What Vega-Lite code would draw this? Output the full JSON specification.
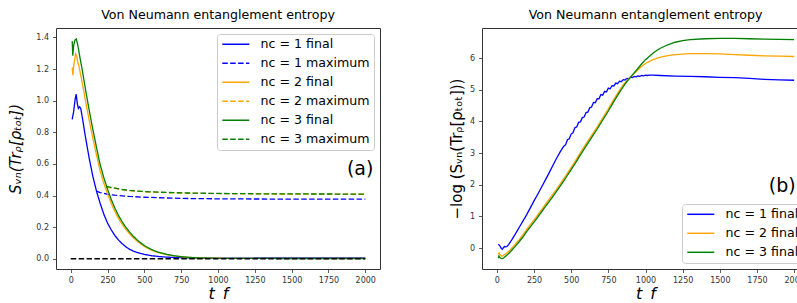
{
  "$schema": "https://vega.github.io/schema/vega-lite/v6.json",
  "padding": {"left": 8, "top": 8, "right": 0, "bottom": 0},
  "background": "white",
  "config": {
    "font": "DejaVu Sans",
    "view": {"stroke": "#333333", "strokeWidth": 1},
    "axis": {"grid": false, "domain": false, "tickColor": "#333333", "tickSize": 3.5, "tickWidth": 0.8, "labelFontSize": 8, "labelColor": "#333333", "labelPadding": 4, "labelOverlap": false, "labelFlush": false, "titleFontSize": 15, "titleFontWeight": "normal", "titleColor": "#000000"},
    "title": {"fontSize": 12.6, "fontWeight": "normal", "color": "#000000", "offset": 6, "baseline": "alphabetic"},
    "legend": {"labelFontSize": 12.6, "labelColor": "#000000", "symbolType": "M-1,0H4.4", "symbolSize": 100, "symbolStrokeWidth": 1.5, "labelOffset": 27, "padding": 4, "rowPadding": 6, "fillColor": "rgba(255,255,255,0.8)", "strokeColor": "#cccccc", "cornerRadius": 3, "labelLimit": 300}
  },
  "datasets": {
    "zero": [{"t": 0, "S": 0}, {"t": 2000, "S": 0}],
    "left": [
      {"t": 10, "S": 0.8825, "series": "nc = 1 final"},
      {"t": 20, "S": 0.9324, "series": "nc = 1 final"},
      {"t": 30, "S": 1.0101, "series": "nc = 1 final"},
      {"t": 37, "S": 1.0408, "series": "nc = 1 final"},
      {"t": 45, "S": 0.9802, "series": "nc = 1 final"},
      {"t": 52, "S": 0.9512, "series": "nc = 1 final"},
      {"t": 60, "S": 0.9608, "series": "nc = 1 final"},
      {"t": 68, "S": 0.9512, "series": "nc = 1 final"},
      {"t": 80, "S": 0.8869, "series": "nc = 1 final"},
      {"t": 100, "S": 0.7711, "series": "nc = 1 final"},
      {"t": 125, "S": 0.6376, "series": "nc = 1 final"},
      {"t": 150, "S": 0.5220, "series": "nc = 1 final"},
      {"t": 175, "S": 0.4274, "series": "nc = 1 final"},
      {"t": 200, "S": 0.3499, "series": "nc = 1 final"},
      {"t": 225, "S": 0.2808, "series": "nc = 1 final"},
      {"t": 250, "S": 0.2254, "series": "nc = 1 final"},
      {"t": 275, "S": 0.1827, "series": "nc = 1 final"},
      {"t": 300, "S": 0.1466, "series": "nc = 1 final"},
      {"t": 325, "S": 0.1177, "series": "nc = 1 final"},
      {"t": 350, "S": 0.0944, "series": "nc = 1 final"},
      {"t": 375, "S": 0.0750, "series": "nc = 1 final"},
      {"t": 400, "S": 0.0596, "series": "nc = 1 final"},
      {"t": 425, "S": 0.0483, "series": "nc = 1 final"},
      {"t": 450, "S": 0.0400, "series": "nc = 1 final"},
      {"t": 475, "S": 0.0327, "series": "nc = 1 final"},
      {"t": 500, "S": 0.0273, "series": "nc = 1 final"},
      {"t": 550, "S": 0.0189, "series": "nc = 1 final"},
      {"t": 600, "S": 0.0138, "series": "nc = 1 final"},
      {"t": 650, "S": 0.0101, "series": "nc = 1 final"},
      {"t": 700, "S": 0.0078, "series": "nc = 1 final"},
      {"t": 750, "S": 0.0064, "series": "nc = 1 final"},
      {"t": 800, "S": 0.0055, "series": "nc = 1 final"},
      {"t": 900, "S": 0.0045, "series": "nc = 1 final"},
      {"t": 1000, "S": 0.0043, "series": "nc = 1 final"},
      {"t": 1500, "S": 0.0046, "series": "nc = 1 final"},
      {"t": 2000, "S": 0.0050, "series": "nc = 1 final"},

      {"t": 175, "S": 0.428, "series": "nc = 1 maximum"},
      {"t": 200, "S": 0.418, "series": "nc = 1 maximum"},
      {"t": 250, "S": 0.408, "series": "nc = 1 maximum"},
      {"t": 300, "S": 0.402, "series": "nc = 1 maximum"},
      {"t": 350, "S": 0.398, "series": "nc = 1 maximum"},
      {"t": 400, "S": 0.394, "series": "nc = 1 maximum"},
      {"t": 500, "S": 0.389, "series": "nc = 1 maximum"},
      {"t": 600, "S": 0.386, "series": "nc = 1 maximum"},
      {"t": 700, "S": 0.383, "series": "nc = 1 maximum"},
      {"t": 800, "S": 0.381, "series": "nc = 1 maximum"},
      {"t": 1000, "S": 0.379, "series": "nc = 1 maximum"},
      {"t": 1250, "S": 0.378, "series": "nc = 1 maximum"},
      {"t": 1500, "S": 0.377, "series": "nc = 1 maximum"},
      {"t": 2000, "S": 0.377, "series": "nc = 1 maximum"},

      {"t": 10, "S": 1.2092, "series": "nc = 2 final"},
      {"t": 15, "S": 1.1618, "series": "nc = 2 final"},
      {"t": 20, "S": 1.2214, "series": "nc = 2 final"},
      {"t": 33, "S": 1.2969, "series": "nc = 2 final"},
      {"t": 40, "S": 1.2840, "series": "nc = 2 final"},
      {"t": 47, "S": 1.2461, "series": "nc = 2 final"},
      {"t": 55, "S": 1.2214, "series": "nc = 2 final"},
      {"t": 63, "S": 1.1853, "series": "nc = 2 final"},
      {"t": 80, "S": 1.1052, "series": "nc = 2 final"},
      {"t": 100, "S": 1.0, "series": "nc = 2 final"},
      {"t": 125, "S": 0.8781, "series": "nc = 2 final"},
      {"t": 150, "S": 0.7634, "series": "nc = 2 final"},
      {"t": 175, "S": 0.6570, "series": "nc = 2 final"},
      {"t": 200, "S": 0.5543, "series": "nc = 2 final"},
      {"t": 225, "S": 0.4771, "series": "nc = 2 final"},
      {"t": 250, "S": 0.4107, "series": "nc = 2 final"},
      {"t": 275, "S": 0.3499, "series": "nc = 2 final"},
      {"t": 300, "S": 0.2982, "series": "nc = 2 final"},
      {"t": 325, "S": 0.2541, "series": "nc = 2 final"},
      {"t": 350, "S": 0.2165, "series": "nc = 2 final"},
      {"t": 375, "S": 0.1845, "series": "nc = 2 final"},
      {"t": 400, "S": 0.1572, "series": "nc = 2 final"},
      {"t": 425, "S": 0.1327, "series": "nc = 2 final"},
      {"t": 450, "S": 0.1119, "series": "nc = 2 final"},
      {"t": 475, "S": 0.0935, "series": "nc = 2 final"},
      {"t": 500, "S": 0.0781, "series": "nc = 2 final"},
      {"t": 525, "S": 0.0652, "series": "nc = 2 final"},
      {"t": 550, "S": 0.0539, "series": "nc = 2 final"},
      {"t": 575, "S": 0.0446, "series": "nc = 2 final"},
      {"t": 600, "S": 0.0373, "series": "nc = 2 final"},
      {"t": 650, "S": 0.0260, "series": "nc = 2 final"},
      {"t": 700, "S": 0.0180, "series": "nc = 2 final"},
      {"t": 750, "S": 0.0123, "series": "nc = 2 final"},
      {"t": 800, "S": 0.0082, "series": "nc = 2 final"},
      {"t": 850, "S": 0.0058, "series": "nc = 2 final"},
      {"t": 900, "S": 0.0045, "series": "nc = 2 final"},
      {"t": 1000, "S": 0.0029, "series": "nc = 2 final"},
      {"t": 1500, "S": 0.0022, "series": "nc = 2 final"},
      {"t": 2000, "S": 0.0024, "series": "nc = 2 final"},

      {"t": 240, "S": 0.452, "series": "nc = 2 maximum"},
      {"t": 275, "S": 0.449, "series": "nc = 2 maximum"},
      {"t": 300, "S": 0.445, "series": "nc = 2 maximum"},
      {"t": 350, "S": 0.437, "series": "nc = 2 maximum"},
      {"t": 400, "S": 0.431, "series": "nc = 2 maximum"},
      {"t": 500, "S": 0.424, "series": "nc = 2 maximum"},
      {"t": 600, "S": 0.420, "series": "nc = 2 maximum"},
      {"t": 700, "S": 0.417, "series": "nc = 2 maximum"},
      {"t": 800, "S": 0.415, "series": "nc = 2 maximum"},
      {"t": 1000, "S": 0.412, "series": "nc = 2 maximum"},
      {"t": 1250, "S": 0.410, "series": "nc = 2 maximum"},
      {"t": 1500, "S": 0.409, "series": "nc = 2 maximum"},
      {"t": 2000, "S": 0.408, "series": "nc = 2 maximum"},

      {"t": 10, "S": 1.3771, "series": "nc = 3 final"},
      {"t": 14, "S": 1.2840, "series": "nc = 3 final"},
      {"t": 20, "S": 1.3499, "series": "nc = 3 final"},
      {"t": 29, "S": 1.3840, "series": "nc = 3 final"},
      {"t": 38, "S": 1.3910, "series": "nc = 3 final"},
      {"t": 47, "S": 1.3566, "series": "nc = 3 final"},
      {"t": 63, "S": 1.2712, "series": "nc = 3 final"},
      {"t": 80, "S": 1.1853, "series": "nc = 3 final"},
      {"t": 100, "S": 1.0725, "series": "nc = 3 final"},
      {"t": 125, "S": 0.9418, "series": "nc = 3 final"},
      {"t": 150, "S": 0.8187, "series": "nc = 3 final"},
      {"t": 175, "S": 0.7047, "series": "nc = 3 final"},
      {"t": 200, "S": 0.5945, "series": "nc = 3 final"},
      {"t": 225, "S": 0.5117, "series": "nc = 3 final"},
      {"t": 250, "S": 0.4404, "series": "nc = 3 final"},
      {"t": 275, "S": 0.3753, "series": "nc = 3 final"},
      {"t": 300, "S": 0.3198, "series": "nc = 3 final"},
      {"t": 325, "S": 0.2725, "series": "nc = 3 final"},
      {"t": 350, "S": 0.2322, "series": "nc = 3 final"},
      {"t": 375, "S": 0.1979, "series": "nc = 3 final"},
      {"t": 400, "S": 0.1686, "series": "nc = 3 final"},
      {"t": 425, "S": 0.1423, "series": "nc = 3 final"},
      {"t": 450, "S": 0.1200, "series": "nc = 3 final"},
      {"t": 475, "S": 0.1003, "series": "nc = 3 final"},
      {"t": 500, "S": 0.0837, "series": "nc = 3 final"},
      {"t": 525, "S": 0.0699, "series": "nc = 3 final"},
      {"t": 550, "S": 0.0578, "series": "nc = 3 final"},
      {"t": 575, "S": 0.0478, "series": "nc = 3 final"},
      {"t": 600, "S": 0.0400, "series": "nc = 3 final"},
      {"t": 650, "S": 0.0279, "series": "nc = 3 final"},
      {"t": 700, "S": 0.0193, "series": "nc = 3 final"},
      {"t": 750, "S": 0.0132, "series": "nc = 3 final"},
      {"t": 800, "S": 0.0088, "series": "nc = 3 final"},
      {"t": 850, "S": 0.0061, "series": "nc = 3 final"},
      {"t": 900, "S": 0.0045, "series": "nc = 3 final"},
      {"t": 1000, "S": 0.0026, "series": "nc = 3 final"},
      {"t": 1500, "S": 0.0013, "series": "nc = 3 final"},
      {"t": 2000, "S": 0.0014, "series": "nc = 3 final"},

      {"t": 240, "S": 0.458, "series": "nc = 3 maximum"},
      {"t": 275, "S": 0.452, "series": "nc = 3 maximum"},
      {"t": 300, "S": 0.447, "series": "nc = 3 maximum"},
      {"t": 350, "S": 0.438, "series": "nc = 3 maximum"},
      {"t": 400, "S": 0.432, "series": "nc = 3 maximum"},
      {"t": 500, "S": 0.425, "series": "nc = 3 maximum"},
      {"t": 600, "S": 0.421, "series": "nc = 3 maximum"},
      {"t": 700, "S": 0.418, "series": "nc = 3 maximum"},
      {"t": 800, "S": 0.416, "series": "nc = 3 maximum"},
      {"t": 1000, "S": 0.413, "series": "nc = 3 maximum"},
      {"t": 1250, "S": 0.411, "series": "nc = 3 maximum"},
      {"t": 1500, "S": 0.410, "series": "nc = 3 maximum"},
      {"t": 2000, "S": 0.409, "series": "nc = 3 maximum"}
    ],
    "right": [
      {"t": 10, "L": 0.125, "series": "nc = 1 final"},
      {"t": 20, "L": 0.07, "series": "nc = 1 final"},
      {"t": 30, "L": -0.01, "series": "nc = 1 final"},
      {"t": 37, "L": -0.04, "series": "nc = 1 final"},
      {"t": 45, "L": 0.02, "series": "nc = 1 final"},
      {"t": 52, "L": 0.05, "series": "nc = 1 final"},
      {"t": 60, "L": 0.04, "series": "nc = 1 final"},
      {"t": 68, "L": 0.05, "series": "nc = 1 final"},
      {"t": 80, "L": 0.12, "series": "nc = 1 final"},
      {"t": 100, "L": 0.26, "series": "nc = 1 final"},
      {"t": 125, "L": 0.45, "series": "nc = 1 final"},
      {"t": 150, "L": 0.65, "series": "nc = 1 final"},
      {"t": 175, "L": 0.85, "series": "nc = 1 final"},
      {"t": 200, "L": 1.05, "series": "nc = 1 final"},
      {"t": 225, "L": 1.27, "series": "nc = 1 final"},
      {"t": 250, "L": 1.49, "series": "nc = 1 final"},
      {"t": 275, "L": 1.70, "series": "nc = 1 final"},
      {"t": 300, "L": 1.92, "series": "nc = 1 final"},
      {"t": 325, "L": 2.14, "series": "nc = 1 final"},
      {"t": 350, "L": 2.36, "series": "nc = 1 final"},
      {"t": 375, "L": 2.59, "series": "nc = 1 final"},
      {"t": 400, "L": 2.82, "series": "nc = 1 final"},
      {"t": 425, "L": 3.03, "series": "nc = 1 final"},
      {"t": 450, "L": 3.22, "series": "nc = 1 final"},
      {"t": 462, "L": 3.26, "series": "nc = 1 final"},
      {"t": 475, "L": 3.42, "series": "nc = 1 final"},
      {"t": 487, "L": 3.45, "series": "nc = 1 final"},
      {"t": 500, "L": 3.60, "series": "nc = 1 final"},
      {"t": 512, "L": 3.64, "series": "nc = 1 final"},
      {"t": 525, "L": 3.80, "series": "nc = 1 final"},
      {"t": 537, "L": 3.825, "series": "nc = 1 final"},
      {"t": 550, "L": 3.97, "series": "nc = 1 final"},
      {"t": 562, "L": 3.985, "series": "nc = 1 final"},
      {"t": 575, "L": 4.12, "series": "nc = 1 final"},
      {"t": 587, "L": 4.14, "series": "nc = 1 final"},
      {"t": 600, "L": 4.28, "series": "nc = 1 final"},
      {"t": 612, "L": 4.295, "series": "nc = 1 final"},
      {"t": 625, "L": 4.43, "series": "nc = 1 final"},
      {"t": 637, "L": 4.455, "series": "nc = 1 final"},
      {"t": 650, "L": 4.60, "series": "nc = 1 final"},
      {"t": 662, "L": 4.59, "series": "nc = 1 final"},
      {"t": 675, "L": 4.72, "series": "nc = 1 final"},
      {"t": 687, "L": 4.715, "series": "nc = 1 final"},
      {"t": 700, "L": 4.85, "series": "nc = 1 final"},
      {"t": 712, "L": 4.83, "series": "nc = 1 final"},
      {"t": 725, "L": 4.95, "series": "nc = 1 final"},
      {"t": 737, "L": 4.93, "series": "nc = 1 final"},
      {"t": 750, "L": 5.05, "series": "nc = 1 final"},
      {"t": 762, "L": 5.03, "series": "nc = 1 final"},
      {"t": 775, "L": 5.13, "series": "nc = 1 final"},
      {"t": 787, "L": 5.12, "series": "nc = 1 final"},
      {"t": 800, "L": 5.21, "series": "nc = 1 final"},
      {"t": 812, "L": 5.19, "series": "nc = 1 final"},
      {"t": 825, "L": 5.27, "series": "nc = 1 final"},
      {"t": 837, "L": 5.255, "series": "nc = 1 final"},
      {"t": 850, "L": 5.32, "series": "nc = 1 final"},
      {"t": 862, "L": 5.305, "series": "nc = 1 final"},
      {"t": 875, "L": 5.36, "series": "nc = 1 final"},
      {"t": 887, "L": 5.35, "series": "nc = 1 final"},
      {"t": 900, "L": 5.40, "series": "nc = 1 final"},
      {"t": 912, "L": 5.385, "series": "nc = 1 final"},
      {"t": 925, "L": 5.42, "series": "nc = 1 final"},
      {"t": 937, "L": 5.41, "series": "nc = 1 final"},
      {"t": 950, "L": 5.44, "series": "nc = 1 final"},
      {"t": 962, "L": 5.425, "series": "nc = 1 final"},
      {"t": 975, "L": 5.45, "series": "nc = 1 final"},
      {"t": 987, "L": 5.44, "series": "nc = 1 final"},
      {"t": 1000, "L": 5.46, "series": "nc = 1 final"},
      {"t": 1012, "L": 5.45, "series": "nc = 1 final"},
      {"t": 1025, "L": 5.46, "series": "nc = 1 final"},
      {"t": 1050, "L": 5.46, "series": "nc = 1 final"},
      {"t": 1100, "L": 5.45, "series": "nc = 1 final"},
      {"t": 1200, "L": 5.43, "series": "nc = 1 final"},
      {"t": 1300, "L": 5.42, "series": "nc = 1 final"},
      {"t": 1400, "L": 5.41, "series": "nc = 1 final"},
      {"t": 1500, "L": 5.39, "series": "nc = 1 final"},
      {"t": 1600, "L": 5.38, "series": "nc = 1 final"},
      {"t": 1700, "L": 5.36, "series": "nc = 1 final"},
      {"t": 1800, "L": 5.33, "series": "nc = 1 final"},
      {"t": 1900, "L": 5.31, "series": "nc = 1 final"},
      {"t": 2000, "L": 5.30, "series": "nc = 1 final"},

      {"t": 10, "L": -0.19, "series": "nc = 2 final"},
      {"t": 15, "L": -0.15, "series": "nc = 2 final"},
      {"t": 20, "L": -0.20, "series": "nc = 2 final"},
      {"t": 33, "L": -0.26, "series": "nc = 2 final"},
      {"t": 40, "L": -0.25, "series": "nc = 2 final"},
      {"t": 47, "L": -0.22, "series": "nc = 2 final"},
      {"t": 55, "L": -0.20, "series": "nc = 2 final"},
      {"t": 63, "L": -0.17, "series": "nc = 2 final"},
      {"t": 80, "L": -0.10, "series": "nc = 2 final"},
      {"t": 100, "L": 0.00, "series": "nc = 2 final"},
      {"t": 125, "L": 0.13, "series": "nc = 2 final"},
      {"t": 150, "L": 0.27, "series": "nc = 2 final"},
      {"t": 175, "L": 0.42, "series": "nc = 2 final"},
      {"t": 200, "L": 0.59, "series": "nc = 2 final"},
      {"t": 225, "L": 0.74, "series": "nc = 2 final"},
      {"t": 250, "L": 0.89, "series": "nc = 2 final"},
      {"t": 275, "L": 1.05, "series": "nc = 2 final"},
      {"t": 300, "L": 1.21, "series": "nc = 2 final"},
      {"t": 325, "L": 1.37, "series": "nc = 2 final"},
      {"t": 350, "L": 1.53, "series": "nc = 2 final"},
      {"t": 375, "L": 1.69, "series": "nc = 2 final"},
      {"t": 400, "L": 1.85, "series": "nc = 2 final"},
      {"t": 425, "L": 2.02, "series": "nc = 2 final"},
      {"t": 450, "L": 2.19, "series": "nc = 2 final"},
      {"t": 475, "L": 2.37, "series": "nc = 2 final"},
      {"t": 500, "L": 2.55, "series": "nc = 2 final"},
      {"t": 525, "L": 2.73, "series": "nc = 2 final"},
      {"t": 550, "L": 2.92, "series": "nc = 2 final"},
      {"t": 575, "L": 3.11, "series": "nc = 2 final"},
      {"t": 600, "L": 3.29, "series": "nc = 2 final"},
      {"t": 625, "L": 3.47, "series": "nc = 2 final"},
      {"t": 650, "L": 3.65, "series": "nc = 2 final"},
      {"t": 675, "L": 3.83, "series": "nc = 2 final"},
      {"t": 700, "L": 4.02, "series": "nc = 2 final"},
      {"t": 725, "L": 4.21, "series": "nc = 2 final"},
      {"t": 750, "L": 4.40, "series": "nc = 2 final"},
      {"t": 775, "L": 4.60, "series": "nc = 2 final"},
      {"t": 800, "L": 4.80, "series": "nc = 2 final"},
      {"t": 825, "L": 4.98, "series": "nc = 2 final"},
      {"t": 850, "L": 5.15, "series": "nc = 2 final"},
      {"t": 875, "L": 5.29, "series": "nc = 2 final"},
      {"t": 900, "L": 5.41, "series": "nc = 2 final"},
      {"t": 925, "L": 5.52, "series": "nc = 2 final"},
      {"t": 950, "L": 5.63, "series": "nc = 2 final"},
      {"t": 975, "L": 5.74, "series": "nc = 2 final"},
      {"t": 1000, "L": 5.83, "series": "nc = 2 final"},
      {"t": 1050, "L": 5.95, "series": "nc = 2 final"},
      {"t": 1100, "L": 6.03, "series": "nc = 2 final"},
      {"t": 1150, "L": 6.08, "series": "nc = 2 final"},
      {"t": 1200, "L": 6.11, "series": "nc = 2 final"},
      {"t": 1300, "L": 6.14, "series": "nc = 2 final"},
      {"t": 1400, "L": 6.14, "series": "nc = 2 final"},
      {"t": 1500, "L": 6.13, "series": "nc = 2 final"},
      {"t": 1600, "L": 6.11, "series": "nc = 2 final"},
      {"t": 1700, "L": 6.09, "series": "nc = 2 final"},
      {"t": 1800, "L": 6.07, "series": "nc = 2 final"},
      {"t": 1900, "L": 6.06, "series": "nc = 2 final"},
      {"t": 2000, "L": 6.05, "series": "nc = 2 final"},

      {"t": 10, "L": -0.32, "series": "nc = 3 final"},
      {"t": 14, "L": -0.25, "series": "nc = 3 final"},
      {"t": 20, "L": -0.30, "series": "nc = 3 final"},
      {"t": 29, "L": -0.325, "series": "nc = 3 final"},
      {"t": 38, "L": -0.33, "series": "nc = 3 final"},
      {"t": 47, "L": -0.305, "series": "nc = 3 final"},
      {"t": 63, "L": -0.24, "series": "nc = 3 final"},
      {"t": 80, "L": -0.17, "series": "nc = 3 final"},
      {"t": 100, "L": -0.07, "series": "nc = 3 final"},
      {"t": 125, "L": 0.06, "series": "nc = 3 final"},
      {"t": 150, "L": 0.20, "series": "nc = 3 final"},
      {"t": 175, "L": 0.35, "series": "nc = 3 final"},
      {"t": 200, "L": 0.52, "series": "nc = 3 final"},
      {"t": 225, "L": 0.67, "series": "nc = 3 final"},
      {"t": 250, "L": 0.82, "series": "nc = 3 final"},
      {"t": 275, "L": 0.98, "series": "nc = 3 final"},
      {"t": 300, "L": 1.14, "series": "nc = 3 final"},
      {"t": 325, "L": 1.30, "series": "nc = 3 final"},
      {"t": 350, "L": 1.46, "series": "nc = 3 final"},
      {"t": 375, "L": 1.62, "series": "nc = 3 final"},
      {"t": 400, "L": 1.78, "series": "nc = 3 final"},
      {"t": 425, "L": 1.95, "series": "nc = 3 final"},
      {"t": 450, "L": 2.12, "series": "nc = 3 final"},
      {"t": 475, "L": 2.30, "series": "nc = 3 final"},
      {"t": 500, "L": 2.48, "series": "nc = 3 final"},
      {"t": 525, "L": 2.66, "series": "nc = 3 final"},
      {"t": 550, "L": 2.85, "series": "nc = 3 final"},
      {"t": 575, "L": 3.04, "series": "nc = 3 final"},
      {"t": 600, "L": 3.22, "series": "nc = 3 final"},
      {"t": 625, "L": 3.40, "series": "nc = 3 final"},
      {"t": 650, "L": 3.58, "series": "nc = 3 final"},
      {"t": 675, "L": 3.76, "series": "nc = 3 final"},
      {"t": 700, "L": 3.95, "series": "nc = 3 final"},
      {"t": 725, "L": 4.14, "series": "nc = 3 final"},
      {"t": 750, "L": 4.33, "series": "nc = 3 final"},
      {"t": 775, "L": 4.53, "series": "nc = 3 final"},
      {"t": 800, "L": 4.73, "series": "nc = 3 final"},
      {"t": 825, "L": 4.92, "series": "nc = 3 final"},
      {"t": 850, "L": 5.10, "series": "nc = 3 final"},
      {"t": 875, "L": 5.26, "series": "nc = 3 final"},
      {"t": 900, "L": 5.40, "series": "nc = 3 final"},
      {"t": 925, "L": 5.54, "series": "nc = 3 final"},
      {"t": 950, "L": 5.68, "series": "nc = 3 final"},
      {"t": 975, "L": 5.82, "series": "nc = 3 final"},
      {"t": 1000, "L": 5.95, "series": "nc = 3 final"},
      {"t": 1025, "L": 6.05, "series": "nc = 3 final"},
      {"t": 1050, "L": 6.15, "series": "nc = 3 final"},
      {"t": 1075, "L": 6.24, "series": "nc = 3 final"},
      {"t": 1100, "L": 6.31, "series": "nc = 3 final"},
      {"t": 1150, "L": 6.42, "series": "nc = 3 final"},
      {"t": 1200, "L": 6.50, "series": "nc = 3 final"},
      {"t": 1250, "L": 6.55, "series": "nc = 3 final"},
      {"t": 1300, "L": 6.58, "series": "nc = 3 final"},
      {"t": 1400, "L": 6.61, "series": "nc = 3 final"},
      {"t": 1500, "L": 6.62, "series": "nc = 3 final"},
      {"t": 1600, "L": 6.62, "series": "nc = 3 final"},
      {"t": 1700, "L": 6.61, "series": "nc = 3 final"},
      {"t": 1800, "L": 6.60, "series": "nc = 3 final"},
      {"t": 1900, "L": 6.59, "series": "nc = 3 final"},
      {"t": 2000, "L": 6.58, "series": "nc = 3 final"}
    ]
  },
  "spacing": 67,
  "resolve": {"scale": {"color": "independent", "strokeDash": "independent", "x": "independent", "y": "independent"}, "legend": {"color": "independent", "strokeDash": "independent"}},
  "hconcat": [
    {
      "width": 324,
      "height": 241,
      "title": "Von Neumann entanglement entropy",
      "layer": [
        {
          "data": {"name": "left"},
          "mark": {"type": "line", "strokeWidth": 1.3},
          "encoding": {
            "x": {"field": "t", "type": "quantitative", "scale": {"domain": [-100, 2100], "nice": false, "zero": false}, "axis": {"values": [0, 250, 500, 750, 1000, 1250, 1500, 1750, 2000], "tickCount": 12, "format": "d", "title": "t_f", "titleFontStyle": "italic", "titleFontSize": 16, "titlePadding": 1}},
            "y": {"field": "S", "type": "quantitative", "scale": {"domain": [-0.065, 1.46], "nice": false, "zero": false}, "axis": {"values": [0, 0.2, 0.4, 0.6, 0.8, 1.0, 1.2, 1.4], "tickCount": 12, "format": ".1f", "title": "Sᵥₙ(Trᵨ[ρₜₒₜ])", "titleFontStyle": "italic", "titlePadding": 12}},
            "color": {"field": "series", "type": "nominal", "scale": {"domain": ["nc = 1 final", "nc = 1 maximum", "nc = 2 final", "nc = 2 maximum", "nc = 3 final", "nc = 3 maximum"], "range": ["#0000ff", "#0000ff", "#ffa500", "#ffa500", "#008000", "#008000"]}, "legend": {"title": null, "orient": "top-right", "offset": 6}},
            "strokeDash": {"field": "series", "type": "nominal", "scale": {"domain": ["nc = 1 final", "nc = 1 maximum", "nc = 2 final", "nc = 2 maximum", "nc = 3 final", "nc = 3 maximum"], "range": [[1, 0], [5.5, 2.4], [1, 0], [5.5, 2.4], [1, 0], [5.5, 2.4]]}, "legend": {"title": null, "orient": "top-right", "offset": 6}}
          }
        },
        {
          "data": {"name": "zero"},
          "mark": {"type": "line", "color": "#000000", "strokeDash": [5.5, 2.4], "strokeWidth": 1.3},
          "encoding": {"x": {"field": "t", "type": "quantitative"}, "y": {"field": "S", "type": "quantitative"}}
        },
        {
          "data": {"values": [{"label": "(a)"}]},
          "mark": {"type": "text", "fontSize": 19, "align": "right", "baseline": "middle", "color": "#000000"},
          "encoding": {"x": {"datum": 2055}, "y": {"datum": 0.57}, "text": {"field": "label"}}
        }
      ]
    },
    {
      "width": 327,
      "height": 241,
      "title": "Von Neumann entanglement entropy",
      "layer": [
        {
          "data": {"name": "right"},
          "mark": {"type": "line", "strokeWidth": 1.3},
          "encoding": {
            "x": {"field": "t", "type": "quantitative", "scale": {"domain": [-100, 2100], "nice": false, "zero": false}, "axis": {"values": [0, 250, 500, 750, 1000, 1250, 1500, 1750, 2000], "tickCount": 12, "format": "d", "title": "t_f", "titleFontStyle": "italic", "titleFontSize": 16, "titlePadding": 1}},
            "y": {"field": "L", "type": "quantitative", "scale": {"domain": [-0.66, 6.95], "nice": false, "zero": false}, "axis": {"values": [0, 1, 2, 3, 4, 5, 6], "tickCount": 12, "format": "d", "title": "−log (Sᵥₙ(Trᵨ[ρₜₒₜ]))", "titlePadding": 5}},
            "color": {"field": "series", "type": "nominal", "scale": {"domain": ["nc = 1 final", "nc = 2 final", "nc = 3 final"], "range": ["#0000ff", "#ffa500", "#008000"]}, "legend": {"title": null, "orient": "bottom-right", "offset": 6}}
          }
        },
        {
          "data": {"values": [{"label": "(b)"}]},
          "mark": {"type": "text", "fontSize": 19, "align": "right", "baseline": "middle", "color": "#000000"},
          "encoding": {"x": {"datum": 2010}, "y": {"datum": 1.97}, "text": {"field": "label"}}
        }
      ]
    }
  ]
}
